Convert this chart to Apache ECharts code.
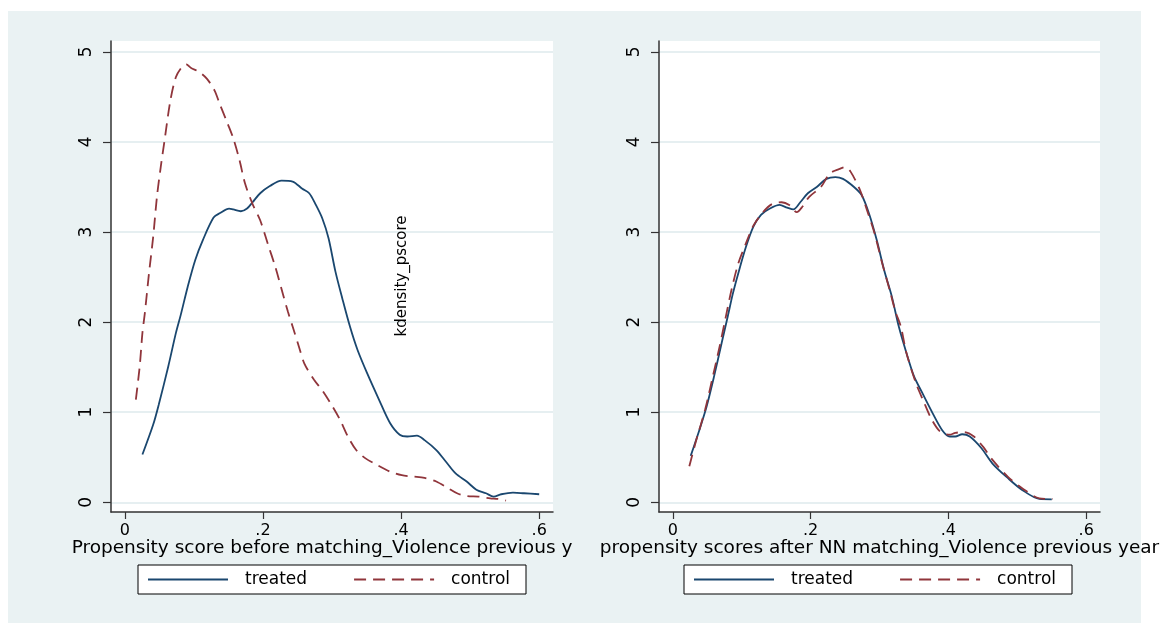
<!DOCTYPE html>
<html>
<head>
<meta charset="utf-8">
<script src="https://cdn.jsdelivr.net/npm/echarts@6/dist/echarts.min.js"></script>
<style>
  html, body { margin: 0; padding: 0; background: #fff; }
  #chart { width: 1168px; height: 623px; }
</style>
</head>
<body>
<div id="chart"></div>
<script>
// kdensity of propensity score as [score, density]
var beforeTreated = [
  [0.0255, 0.53], [0.041, 0.86], [0.049, 1.08], [0.063, 1.51], [0.074, 1.88], [0.081, 2.08],
  [0.091, 2.39], [0.102, 2.69], [0.113, 2.91], [0.1285, 3.16], [0.138, 3.21], [0.151, 3.26],
  [0.157, 3.25], [0.168, 3.23], [0.177, 3.26], [0.185, 3.33], [0.196, 3.43], [0.21, 3.51],
  [0.227, 3.57], [0.243, 3.56], [0.257, 3.48], [0.267, 3.43], [0.276, 3.31], [0.286, 3.15],
  [0.295, 2.93], [0.305, 2.56], [0.315, 2.26], [0.326, 1.95], [0.337, 1.69], [0.351, 1.43],
  [0.368, 1.14], [0.384, 0.88], [0.398, 0.75], [0.409, 0.73], [0.423, 0.74], [0.434, 0.69],
  [0.451, 0.58], [0.465, 0.45], [0.479, 0.32], [0.495, 0.23], [0.509, 0.14], [0.523, 0.10],
  [0.534, 0.063], [0.545, 0.089], [0.562, 0.107], [0.578, 0.10], [0.6, 0.089]
];
var beforeControl = [
  [0.016, 1.14], [0.0216, 1.51], [0.0255, 1.88], [0.029, 2.1], [0.035, 2.54], [0.041, 2.94],
  [0.0465, 3.39], [0.052, 3.72], [0.0576, 4.02], [0.066, 4.46], [0.074, 4.72], [0.0825, 4.83],
  [0.089, 4.86], [0.096, 4.82], [0.107, 4.78], [0.119, 4.70], [0.13, 4.57], [0.138, 4.41],
  [0.149, 4.20], [0.157, 4.04], [0.166, 3.80], [0.174, 3.54], [0.185, 3.31], [0.196, 3.13],
  [0.207, 2.87], [0.218, 2.61], [0.229, 2.31], [0.236, 2.12], [0.243, 1.95], [0.252, 1.73],
  [0.26, 1.54], [0.274, 1.36], [0.287, 1.23], [0.301, 1.06], [0.312, 0.91], [0.323, 0.73],
  [0.335, 0.58], [0.348, 0.49], [0.365, 0.415], [0.384, 0.34], [0.401, 0.30], [0.418, 0.285],
  [0.434, 0.27], [0.451, 0.23], [0.468, 0.156], [0.481, 0.10], [0.495, 0.07], [0.512, 0.063],
  [0.529, 0.044], [0.54, 0.037], [0.552, 0.019]
];
var afterTreated = [
  [0.026, 0.515], [0.0385, 0.80], [0.049, 1.06], [0.06, 1.40], [0.071, 1.77], [0.08, 2.07],
  [0.087, 2.31], [0.095, 2.54], [0.106, 2.83], [0.117, 3.06], [0.128, 3.19], [0.141, 3.26],
  [0.155, 3.30], [0.166, 3.27], [0.175, 3.25], [0.185, 3.33], [0.196, 3.43], [0.209, 3.50],
  [0.223, 3.59], [0.236, 3.61], [0.247, 3.59], [0.263, 3.50], [0.274, 3.41], [0.285, 3.20],
  [0.296, 2.91], [0.307, 2.57], [0.318, 2.28], [0.328, 1.95], [0.339, 1.66], [0.35, 1.40],
  [0.361, 1.23], [0.377, 0.99], [0.391, 0.80], [0.402, 0.73], [0.41, 0.73], [0.42, 0.755],
  [0.431, 0.73], [0.448, 0.60], [0.464, 0.43], [0.486, 0.27], [0.507, 0.137], [0.532, 0.037],
  [0.55, 0.033]
];
var afterControl = [
  [0.024, 0.40], [0.033, 0.66], [0.047, 1.03], [0.057, 1.36], [0.068, 1.73], [0.077, 2.06],
  [0.085, 2.35], [0.095, 2.65], [0.106, 2.87], [0.117, 3.07], [0.131, 3.22], [0.144, 3.31],
  [0.158, 3.33], [0.169, 3.30], [0.18, 3.22], [0.188, 3.28], [0.198, 3.39], [0.215, 3.50],
  [0.228, 3.65], [0.242, 3.70], [0.25, 3.72], [0.258, 3.67], [0.272, 3.46], [0.282, 3.24],
  [0.293, 2.98], [0.304, 2.65], [0.315, 2.35], [0.323, 2.12], [0.331, 1.95], [0.339, 1.66],
  [0.353, 1.32], [0.364, 1.12], [0.375, 0.93], [0.388, 0.785], [0.402, 0.75], [0.41, 0.77],
  [0.423, 0.78], [0.437, 0.73], [0.45, 0.62], [0.464, 0.47], [0.486, 0.285], [0.507, 0.156],
  [0.532, 0.044], [0.551, 0.037]
];
var xTicks = [0, 0.2, 0.4, 0.6];
var yTicks = [0, 1, 2, 3, 4, 5];
var seriesNames = ['treated', 'control'];
var xTitles = [
  'Propensity score before matching_Violence previous y',
  'propensity scores after NN matching_Violence previous year'
];
var yTitle = 'kdensity_pscore';

var FONT = 'DejaVu Sans';
var NAVY = '#1a476f';
var MAROON = '#90353b';

function stataNum(v) {
  return v === 0 ? '0' : String(v).replace(/^0\./, '.');
}

function makeX(idx, title, namePad) {
  return {
    type: 'value', gridIndex: idx, min: -0.02, max: 0.62,
    name: title, nameLocation: 'middle', nameGap: 27, nameMoveOverlap: false,
    nameTextStyle: { fontFamily: FONT, fontSize: 18.5, color: '#000', padding: namePad },
    axisLine: { show: true, onZero: false, lineStyle: { color: '#333', width: 1.5 } },
    axisTick: { show: true, length: 7, customValues: xTicks, lineStyle: { color: '#333', width: 1.2 } },
    axisLabel: { customValues: xTicks, margin: 11, fontFamily: FONT, fontSize: 16, color: '#000', formatter: stataNum },
    splitLine: { show: false }
  };
}

function makeY(idx) {
  return {
    type: 'value', gridIndex: idx, min: -0.108, max: 5.12,
    axisLine: { show: true, onZero: false, lineStyle: { color: '#333', width: 1.5 } },
    axisTick: { show: true, length: 8, customValues: yTicks, lineStyle: { color: '#333', width: 1.2 } },
    axisLabel: { customValues: yTicks, rotate: 90, margin: 16, fontFamily: FONT, fontSize: 17, color: '#000', formatter: stataNum },
    splitLine: { show: true, lineStyle: { color: '#e6eff1', width: 2 } }
  };
}

function curve(name, idx, data, color, dashed) {
  return {
    name: name, type: 'line', xAxisIndex: idx, yAxisIndex: idx,
    data: data, symbol: 'none', showSymbol: false, smooth: 0.3,
    lineStyle: { color: color, width: 1.8, type: dashed ? [12, 7] : 'solid' },
    itemStyle: { color: color },
    animation: false
  };
}

function makeLegend(left) {
  return {
    data: seriesNames, left: left, top: 565, orient: 'horizontal',
    itemWidth: 80, itemHeight: 14, itemGap: 46,
    padding: [6, 16, 6, 9],
    borderColor: '#000', borderWidth: 1, backgroundColor: '#fff',
    selectedMode: false,
    itemStyle: { opacity: 0 },
    textStyle: { fontFamily: FONT, fontSize: 17, color: '#000', padding: [0, 0, 0, 12] }
  };
}

var myChart = echarts.init(document.getElementById('chart'), null, { renderer: 'canvas' });

var option = {
  backgroundColor: '#fff',
  animation: false,
  graphic: [
    { type: 'rect', z: -10, silent: true, shape: { x: 8, y: 11, width: 1133, height: 612 }, style: { fill: '#eaf2f3' } },
    { type: 'text', z: 10, x: 402, y: 276, rotation: Math.PI / 2,
      style: { text: yTitle, fontFamily: FONT, fontSize: 15, fill: '#000', align: 'center', verticalAlign: 'middle' } }
  ],
  grid: [
    { left: 111, top: 41, width: 442, height: 471, show: true, backgroundColor: '#fff', borderWidth: 0, outerBoundsMode: 'none' },
    { left: 659, top: 41, width: 441, height: 471, show: true, backgroundColor: '#fff', borderWidth: 0, outerBoundsMode: 'none' }
  ],
  xAxis: [makeX(0, xTitles[0], [0, 20, 0, 0]), makeX(1, xTitles[1], [0, 0, 0, 0])],
  yAxis: [makeY(0), makeY(1)],
  legend: [makeLegend(138), makeLegend(684)],
  series: [
    curve(seriesNames[0], 0, beforeTreated, NAVY, false),
    curve(seriesNames[1], 0, beforeControl, MAROON, true),
    curve(seriesNames[0], 1, afterTreated, NAVY, false),
    curve(seriesNames[1], 1, afterControl, MAROON, true)
  ]
};

myChart.setOption(option);
window.onresize = myChart.resize;
</script>
</body>
</html>
